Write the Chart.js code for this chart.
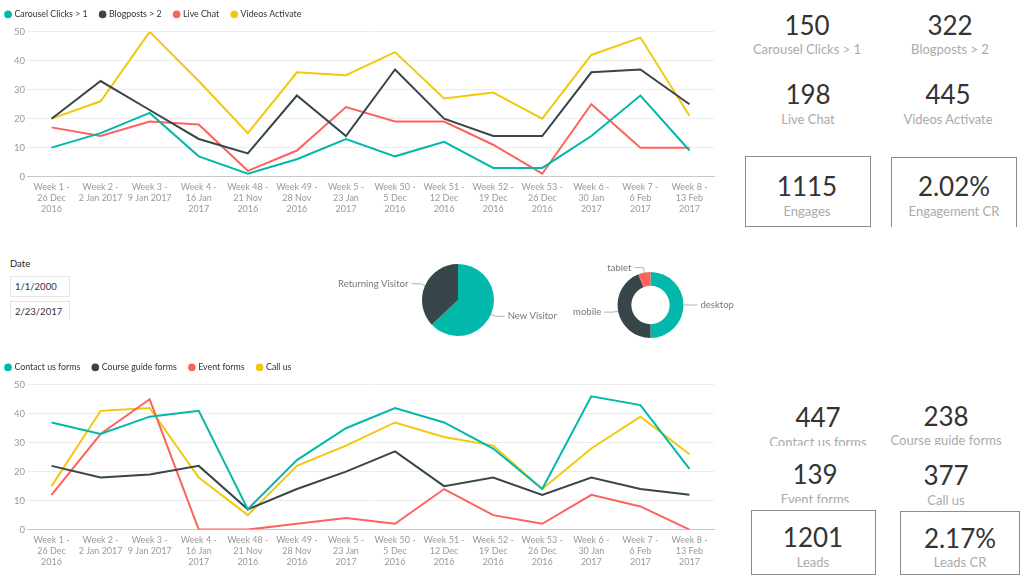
<!DOCTYPE html>
<html>
<head>
<meta charset="utf-8">
<script src="https://cdn.jsdelivr.net/npm/chart.js@4.4.1/dist/chart.umd.min.js"></script>
<style>
  body { margin: 0; width: 1024px; height: 576px; overflow: hidden; background: #fff; font-family: Lato, "Open Sans", sans-serif; position: relative; }
  canvas { position: absolute; }
  .num { position: absolute; font-size: 26px; line-height: 30px; color: #333; white-space: nowrap; transform: translate(-50%, -50%); }
  .lbl { position: absolute; font-size: 13px; line-height: 16px; color: #aaa; white-space: nowrap; overflow: hidden; }
  .box { position: absolute; border: 1px solid #8c8c8c; box-sizing: border-box; }
  .slicer { position: absolute; left: 10px; width: 60px; border: 1px solid #e3e3e3; box-sizing: border-box; font-size: 9.5px; color: #333; padding-left: 4px; }
</style>
</head>
<body>

<canvas id="engageChart" width="716" height="221" style="left:0;top:0"></canvas>
<canvas id="visitorPie" width="280" height="80" style="left:318px;top:260px"></canvas>
<canvas id="deviceDonut" width="181" height="80" style="left:560px;top:265px"></canvas>
<canvas id="leadsChart" width="716" height="221" style="left:0;top:353px"></canvas>

<div style="position:absolute;left:10px;top:258px;font-size:9.5px;color:#252423">Date</div>
<div class="slicer" style="top:276px;height:21px;line-height:19px">1/1/2000</div>
<div class="slicer" style="top:301px;height:18px;line-height:20px;border-bottom:none">2/23/2017</div>

<div class="box" style="left:745px;top:156px;width:126px;height:71px"></div>
<div class="box" style="left:891px;top:157px;width:126px;height:70px;border-bottom:none"></div>
<div class="box" style="left:751px;top:510px;width:125px;height:65px"></div>
<div class="box" style="left:900px;top:511px;width:120px;height:64px"></div>

<script>
// categories
const weekLabels = [
  ['Week 1 -', '26 Dec', '2016'],
  ['Week 2 -', '2 Jan 2017'],
  ['Week 3 -', '9 Jan 2017'],
  ['Week 4 -', '16 Jan', '2017'],
  ['Week 48 -', '21 Nov', '2016'],
  ['Week 49 -', '28 Nov', '2016'],
  ['Week 5 -', '23 Jan', '2017'],
  ['Week 50 -', '5 Dec', '2016'],
  ['Week 51 -', '12 Dec', '2016'],
  ['Week 52 -', '19 Dec', '2016'],
  ['Week 53 -', '26 Dec', '2016'],
  ['Week 6 -', '30 Jan', '2017'],
  ['Week 7 -', '6 Feb', '2017'],
  ['Week 8 -', '13 Feb', '2017']
];

// engagement series
const carouselClicks = [10, 15, 22, 7, 1, 6, 13, 7, 12, 3, 3, 14, 28, 9];
const blogposts      = [20, 33, 23, 13, 8, 28, 14, 37, 20, 14, 14, 36, 37, 25];
const liveChat       = [17, 14, 19, 18, 2, 9, 24, 19, 19, 11, 1, 25, 10, 10];
const videosActivate = [20, 26, 50, 33, 15, 36, 35, 43, 27, 29, 20, 42, 48, 21];

// leads series
const contactUsForms   = [37, 33, 39, 41, 7, 24, 35, 42, 37, 28, 14, 46, 43, 21];
const courseGuideForms = [22, 18, 19, 22, 7, 14, 20, 27, 15, 18, 12, 18, 14, 12];
const eventForms       = [12, 33, 45, 0, 0, 2, 4, 2, 14, 5, 2, 12, 8, 0];
const callUs           = [15, 41, 42, 18, 5, 22, 29, 37, 32, 29, 14, 28, 39, 26];

// y axis ticks
const yTicks = [0, 10, 20, 30, 40, 50];

// pies
const visitorLabels = ['New Visitor', 'Returning Visitor'];
const visitorValues = [63, 37];
const deviceLabels = ['desktop', 'mobile', 'tablet'];
const deviceValues = [50, 44, 6];

// cards
const engageCards = [
  ['150', 'Carousel Clicks > 1'], ['322', 'Blogposts > 2'],
  ['198', 'Live Chat'], ['445', 'Videos Activate'],
  ['1115', 'Engages'], ['2.02%', 'Engagement CR']
];
const leadCards = [
  ['447', 'Contact us forms'], ['238', 'Course guide forms'],
  ['139', 'Event forms'], ['377', 'Call us'],
  ['1201', 'Leads'], ['2.17%', 'Leads CR']
];

const TEAL = '#01B8AA', DARK = '#374649', RED = '#FD625E', YELLOW = '#F2C80F';
const FONT = 'Lato';

// make legend a bit taller so plot starts lower
const legendSpacer = {
  id: 'legendSpacer',
  beforeInit(chart) {
    const fit = chart.legend.fit;
    chart.legend.fit = function () {
      fit.bind(chart.legend)();
      this.height += 3;
    };
  }
};

function lineChart(id, names, series) {
  const colors = [TEAL, DARK, RED, YELLOW];
  return new Chart(document.getElementById(id), {
    type: 'line',
    data: {
      labels: weekLabels,
      datasets: series.map((d, i) => ({
        label: names[i],
        data: d,
        borderColor: colors[i],
        backgroundColor: colors[i],
        borderWidth: 2,
        pointRadius: 0,
        tension: 0,
        fill: false
      }))
    },
    options: {
      responsive: false,
      animation: false,
      layout: { padding: { left: -7, right: 2, top: -3, bottom: 2 } },
      plugins: {
        legend: {
          align: 'start',
          labels: {
            usePointStyle: true,
            pointStyle: 'circle',
            boxWidth: 4,
            boxHeight: 4,
            padding: 13,
            color: '#333',
            font: { family: FONT, size: 8.8 }
          }
        },
        tooltip: { enabled: false }
      },
      scales: {
        x: {
          offset: true,
          grid: { display: false, drawTicks: false },
          border: { color: '#c8c8c8' },
          ticks: {
            autoSkip: false,
            maxRotation: 0,
            padding: 5,
            color: '#999',
            font: { family: FONT, size: 9, lineHeight: 1.2 }
          }
        },
        y: {
          min: yTicks[0],
          max: yTicks[yTicks.length - 1],
          afterBuildTicks(scale) { scale.ticks = yTicks.map(v => ({ value: v })); },
          afterFit(scale) { scale.width = 34; },
          border: { display: false },
          grid: {
            drawTicks: false,
            color: c => c.tick.value === 0 ? '#c8c8c8' : '#ececec'
          },
          ticks: { padding: 2, color: '#999', font: { family: FONT, size: 9.5 } }
        }
      }
    },
    plugins: [legendSpacer]
  });
}

lineChart('engageChart',
  ['Carousel Clicks > 1', 'Blogposts > 2', 'Live Chat', 'Videos Activate'],
  [carouselClicks, blogposts, liveChat, videosActivate]);

lineChart('leadsChart',
  ['Contact us forms', 'Course guide forms', 'Event forms', 'Call us'],
  [contactUsForms, courseGuideForms, eventForms, callUs]);

// category labels with leader lines beside each slice
const sliceLabels = {
  id: 'sliceLabels',
  afterDraw(chart) {
    const ctx = chart.ctx;
    ctx.save();
    ctx.font = '9.5px ' + FONT;
    ctx.fillStyle = '#777';
    ctx.strokeStyle = '#b3b3b3';
    ctx.lineWidth = 1;
    ctx.textBaseline = 'middle';
    chart.getDatasetMeta(0).data.forEach((arc, i) => {
      const mid = (arc.startAngle + arc.endAngle) / 2;
      const r = arc.outerRadius;
      const cos = Math.cos(mid), sin = Math.sin(mid);
      const x1 = arc.x + cos * r, y1 = arc.y + sin * r;
      const x2 = arc.x + cos * (r + 5), y2 = arc.y + sin * (r + 5);
      const dir = cos >= 0 ? 1 : -1;
      const x3 = x2 + dir * 9;
      ctx.beginPath();
      ctx.moveTo(x1, y1);
      ctx.lineTo(x2, y2);
      ctx.lineTo(x3, y2);
      ctx.stroke();
      ctx.textAlign = dir > 0 ? 'left' : 'right';
      ctx.fillText(chart.data.labels[i], x3 + dir * 3, y2);
    });
    ctx.restore();
  }
};

function pieChart(id, type, labels, values, colors, pad, cutout) {
  return new Chart(document.getElementById(id), {
    type: type,
    data: {
      labels: labels,
      datasets: [{ data: values, backgroundColor: colors, borderWidth: 0, hoverOffset: 0 }]
    },
    options: {
      responsive: false,
      animation: false,
      cutout: cutout,
      layout: { padding: pad },
      plugins: { legend: { display: false }, tooltip: { enabled: false } }
    },
    plugins: [sliceLabels]
  });
}

pieChart('visitorPie', 'pie', visitorLabels, visitorValues, [TEAL, DARK], 4, 0);
pieChart('deviceDonut', 'doughnut', deviceLabels, deviceValues, [TEAL, DARK, RED], 7, '58%');

// KPI cards
function addText(cls, text, cx, cy, clipY) {
  const el = document.createElement('div');
  el.className = cls;
  el.textContent = text;
  if (cls === 'num') {
    el.style.left = cx + 'px';
    el.style.top = cy + 'px';
  } else {
    el.style.left = (cx - 80) + 'px';
    el.style.width = '160px';
    el.style.textAlign = 'center';
    el.style.top = (cy - 9) + 'px';
    el.style.height = (clipY ? clipY - (cy - 9) : 16) + 'px';
  }
  document.body.appendChild(el);
}

const engagePos = [[807, 25, 50], [950, 25, 50], [808, 94, 120], [948, 94, 120], [807, 186, 212], [954, 186, 212]];
engageCards.forEach((c, i) => {
  const p = engagePos[i];
  addText('num', c[0], p[0], p[1]);
  addText('lbl', c[1], p[0], p[2]);
});

const leadPos = [[818, 417, 443, 445.5], [946, 416, 441, 444.5], [815, 474, 500, 503], [946, 475, 501, 504.5], [813, 537, 563], [960, 538, 563]];
leadCards.forEach((c, i) => {
  const p = leadPos[i];
  addText('num', c[0], p[0], p[1]);
  addText('lbl', c[1], p[0], p[2], p[3]);
});
</script>
</body>
</html>
